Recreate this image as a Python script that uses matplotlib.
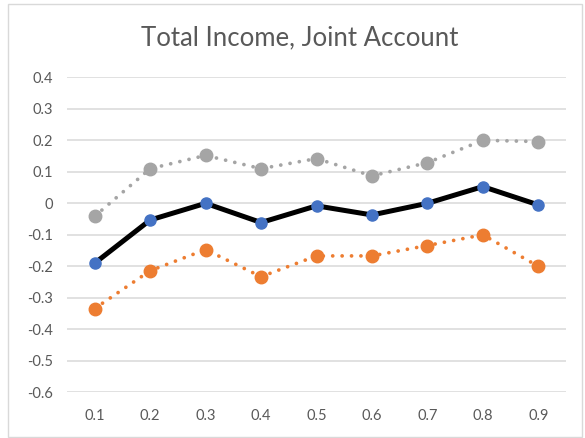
import numpy as np
import matplotlib
matplotlib.use('Agg')
import matplotlib.pyplot as plt
from matplotlib.patches import Rectangle

plt.rcParams['font.family'] = ['Lato', 'DejaVu Sans']

# 分位數
quantiles = ['0.1', '0.2', '0.3', '0.4', '0.5', '0.6', '0.7', '0.8', '0.9']
# 上界 / 估計值 / 下界
upper = [-0.041, 0.110, 0.152, 0.110, 0.142, 0.087, 0.129, 0.200, 0.196]
estimate = [-0.190, -0.053, 0.000, -0.061, -0.008, -0.037, 0.000, 0.053, -0.005]
lower = [-0.334, -0.214, -0.147, -0.233, -0.167, -0.167, -0.134, -0.100, -0.200]
yticks = [0.4, 0.3, 0.2, 0.1, 0, -0.1, -0.2, -0.3, -0.4, -0.5, -0.6]

fig = plt.figure(figsize=(5.85, 4.38), dpi=100)
ax = fig.add_axes([67/585, 1-392.3/438, (566-67)/585, (392.3-77.3)/438])

x = np.arange(len(quantiles))
dots = (0, (0.01, 2.5))  # 圓點虛線
ax.plot(x, upper, color='#A5A5A5', lw=2.7, ls=dots, dash_capstyle='round',
        marker='o', ms=9, zorder=3)
ax.plot(x, lower, color='#ED7D31', lw=2.7, ls=dots, dash_capstyle='round',
        marker='o', ms=9, zorder=3)
ax.plot(x, estimate, color='black', lw=3.6, zorder=4)
ax.plot(x, estimate, ls='none', marker='o', ms=8, color='#4472C4', zorder=5)

ax.set_xlim(-0.5, len(quantiles) - 0.5)
ax.set_ylim(-0.6, 0.4)
ax.set_xticks(x)
ax.set_xticklabels(quantiles)
ax.set_yticks(yticks)
ax.set_yticklabels([('%g' % v) for v in yticks])
ax.grid(True, axis='y', color='#D9D9D9', lw=1.1, zorder=0)
ax.set_axisbelow(True)
for s in ax.spines.values():
    s.set_visible(False)
ax.tick_params(length=0, labelsize=10.5, colors='#595959')
ax.tick_params(axis='y', pad=10)
ax.tick_params(axis='x', pad=12)

fig.text(300/585, 1-38/438, 'Total Income, Joint Account', ha='center', va='center',
         fontsize=18.5, color='#595959')
# 外框
fig.patches.append(Rectangle((8/585, 1-437/438), (582-8)/585, (437-4)/438,
                             transform=fig.transFigure, fill=False, ec='#D9D9D9', lw=1))

plt.savefig('out.png')
